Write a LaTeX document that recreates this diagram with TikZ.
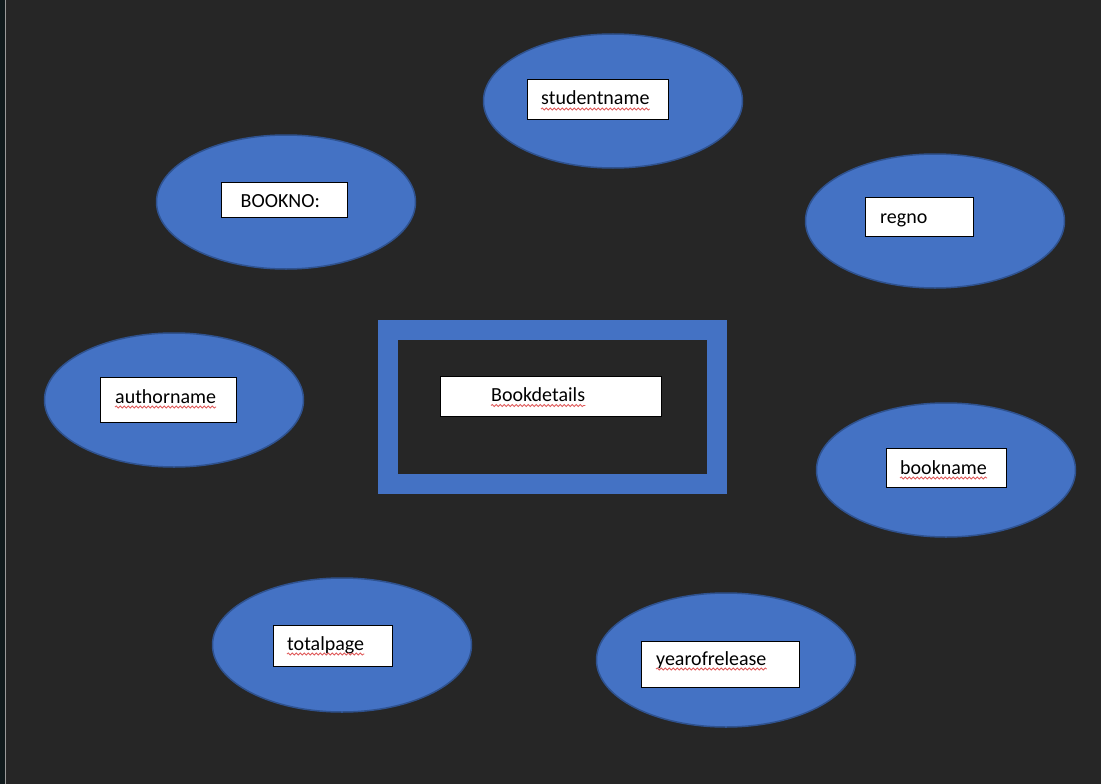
\documentclass[tikz,border=0pt]{standalone}
\usepackage{fontspec}
\setmainfont{Carlito}
\usetikzlibrary{shapes.geometric,decorations.pathmorphing}
\definecolor{bg}{HTML}{262626}
\definecolor{strip}{HTML}{101A1C}
\definecolor{attrblue}{HTML}{4472C4}
\definecolor{attredge}{HTML}{2F528F}
\definecolor{wavered}{HTML}{E05A5A}
\tikzset{
  x=1pt,y=-1pt,
  attr/.style={ellipse,fill=attrblue,draw=attredge,line width=1.5pt,inner sep=0pt},
  labelbox/.style={rectangle,fill=white,draw=black,line width=1pt,inner sep=0pt},
  lbl/.style={inner sep=0pt,anchor=base west,font=\fontsize{20}{24}\selectfont,text=black},
  wavy/.style={draw=wavered,line width=0.8pt,decorate,decoration={snake,segment length=4pt,amplitude=1.1pt}}
}
\newcommand{\attrnode}[7]{%
  % #1 name, #2 cx, #3 cy, #4 box x1, #5 box y1, #6 box x2, #7 box y2
  \node[attr,minimum width=259pt,minimum height=134pt] (#1) at (#2,#3) {};
  \node[labelbox,minimum width=#6pt-#4pt,minimum height=#7pt-#5pt] (#1box) at ({(#4+#6)/2},{(#5+#7)/2}) {};
}
\begin{document}
\begin{tikzpicture}
\useasboundingbox (0,0) rectangle (1101,784);
\fill[bg] (0,0) rectangle (1101,784);
\fill[strip] (0,0) rectangle (4.5,784);
\draw[color=gray!80,line width=1pt] (5.5,0) -- (5.5,784);

% entity
\fill[attrblue] (378,320) rectangle (727,494);
\fill[bg] (398,340) rectangle (707,474);
\node[labelbox,minimum width=221pt,minimum height=40pt] (entbox) at (550.5,396) {};
\node[lbl] (ent) at (491,401.5) {Bookdetails};
\draw[wavy] ([yshift=-4pt]ent.base west) -- ([yshift=-4pt]ent.base east);

% attributes
\attrnode{student}{613}{101}{527}{80}{668}{119}
\node[lbl] (studentt) at (541,105) {studentname};
\draw[wavy] ([yshift=-4pt]studentt.base west) -- ([yshift=-4pt]studentt.base east);

\attrnode{bookno}{286}{202}{221}{182}{347}{217}
\node[lbl] (booknot) at (240.5,207.5) {BOOKNO:};

\attrnode{regno}{935}{221}{865}{197}{973}{236}
\node[lbl] (regnot) at (880,223) {regno};

\attrnode{author}{174}{400}{100}{377}{236}{422}
\node[lbl] (authort) at (115,403) {authorname};
\draw[wavy] ([yshift=-4pt]authort.base west) -- ([yshift=-4pt]authort.base east);

\attrnode{bookname}{946}{470}{886}{448}{1006}{487}
\node[lbl] (booknamet) at (900,474) {bookname};
\draw[wavy] ([yshift=-4pt]booknamet.base west) -- ([yshift=-4pt]booknamet.base east);

\attrnode{total}{342}{645}{273}{625}{392}{666}
\node[lbl] (totalt) at (287,650) {totalpage};
\draw[wavy] ([yshift=-4pt]totalt.base west) -- ([yshift=-4pt]totalt.base east);

\attrnode{year}{726}{660}{641}{641}{799}{687}
\node[lbl] (yeart) at (656,665) {yearofrelease};
\draw[wavy] ([yshift=-4pt]yeart.base west) -- ([yshift=-4pt]yeart.base east);
\end{tikzpicture}
\end{document}
